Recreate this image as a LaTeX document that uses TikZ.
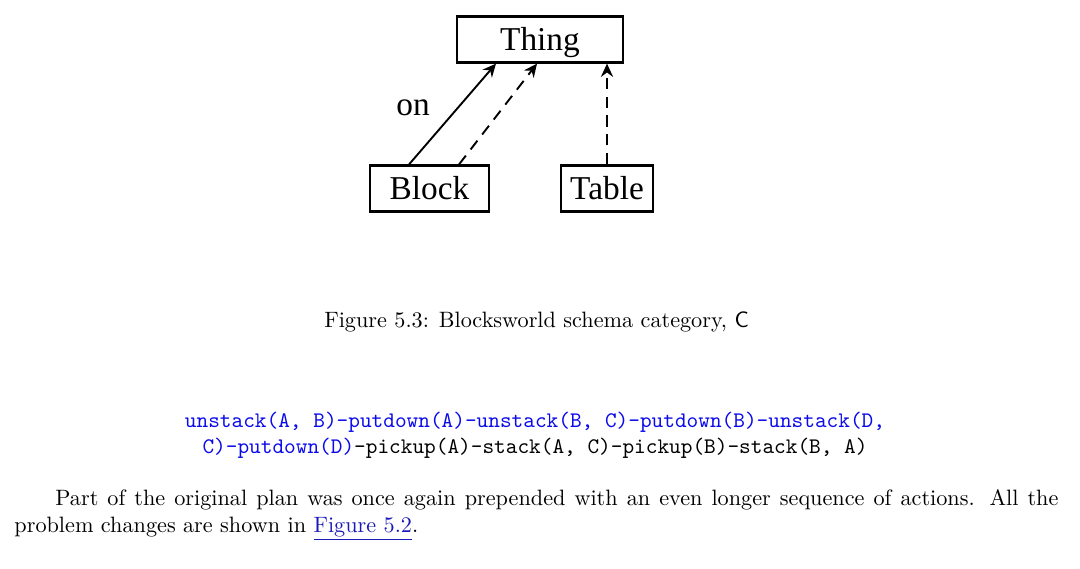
\documentclass[tikz,border=0pt]{standalone}
\usepackage{fontspec}
\newfontfamily\diagfont{Liberation Serif}
\usetikzlibrary{arrows.meta}
\definecolor{codeblue}{RGB}{10,10,235}
\definecolor{linkblue}{RGB}{25,25,185}
\tikzset{
  cls/.style={draw, line width=1.2pt, minimum height=20.5pt, inner sep=0pt,
    text height=10pt, text depth=0pt, font=\diagfont\fontsize{15}{18}\selectfont},
  arr/.style={-{Stealth[length=6pt,width=5.5pt,inset=2pt]}, line width=0.85pt},
  dsh/.style={arr, dash pattern=on 5pt off 3.5pt}
  ,
  txt/.style={inner sep=0pt, anchor=base, font=\fontsize{10}{12}\selectfont}
}

\begin{document}
\begin{tikzpicture}[x=0.45pt,y=-0.45pt]
  \useasboundingbox (0,0) rectangle (1080,569);
  % schema category
  \node[cls, minimum width=74.7pt] (thing) at (540,39.5) {Thing};
  \node[cls, minimum width=53.5pt] (block) at (429.5,188.5) {Block};
  \node[cls, minimum width=41.4pt] (table) at (607,188.5) {Table};
  \draw[arr] ([xshift=-9.2pt]block.north) -- ([xshift=-19.8pt]thing.south);
  \draw[dsh] ([xshift=13.3pt]block.north) -- ([xshift=-1.35pt]thing.south);
  \draw[dsh] (table.north) -- (table.north |- thing.south);
  \node[font=\diagfont\fontsize{15}{18}\selectfont] (onlbl) at (413,108) {on};
  % caption
  \node[txt] (caption) at (536.5,328) {Figure 5.3: Blocksworld schema category, $\mathsf{C}$};
  % plan
  \node[txt, font=\fontsize{10}{12}\selectfont\ttfamily] (planA) at (535,427)
    {\textcolor{codeblue}{unstack(A, B)-putdown(A)-unstack(B, C)-putdown(B)-unstack(D,}};
  \node[txt, font=\fontsize{10}{12}\selectfont\ttfamily] (planB) at (535,453)
    {\textcolor{codeblue}{C)-putdown(D)}-pickup(A)-stack(A, C)-pickup(B)-stack(B, A)};
  % paragraph
  \node[txt, anchor=base west] (parA) at (55,505)
    {\makebox[451.35pt][s]{Part of the original plan was once again prepended with an even longer sequence of actions. All the}};
  \node[txt, anchor=base west] (parB) at (14,532)
    {problem changes are shown in {\color{linkblue}\underline{Figure 5.2}}.};
\end{tikzpicture}
\end{document}
